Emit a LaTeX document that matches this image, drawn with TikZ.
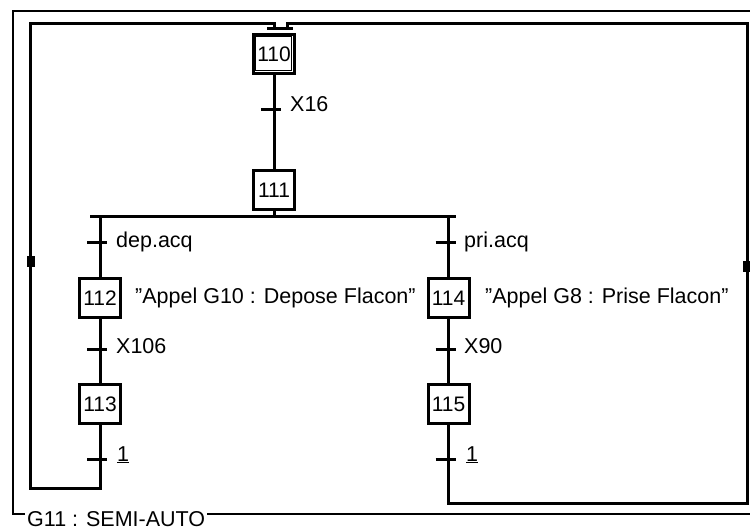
\documentclass[tikz,border=0pt]{standalone}
\usepackage{fontspec}
\setmainfont{Liberation Sans}
\usetikzlibrary{calc}
\newcommand{\dq}{\char34\relax}
\begin{document}
\begin{tikzpicture}[x=1pt,y=-1pt,
  stepbox/.style={draw, line width=3pt, minimum width=41pt, minimum height=39pt, inner sep=0pt, font=\fontsize{21}{24}\selectfont},
  link/.style={line width=3pt},
  framel/.style={line width=2pt},
  lbl/.style={anchor=base west, inner sep=0pt, font=\fontsize{21.5}{25}\selectfont},
  tickl/.style={line width=3pt}]
\useasboundingbox (0,0) rectangle (750,530);

% outer frame
\draw[framel] (752,11) -- (13,11) -- (13,514) -- (752,514);
\node[lbl, fill=white, inner sep=2pt] (g11) at (25,526) {G11 : SEMI-AUTO};

% steps
\node[stepbox] (s110) at (274,54) {110};
\draw[line width=1.5pt] ($(s110.north west)+(3,3)$) rectangle ($(s110.south east)+(-4.5,-4.5)$);
\node[stepbox] (s111) at (274,190) {111};
\node[stepbox] (s112) at (100,298) {112};
\node[stepbox] (s113) at (100,404) {113};
\node[stepbox] (s114) at (448.5,298) {114};
\node[stepbox] (s115) at (448.5,404) {115};

% coordinates
\coordinate (t16) at (274,109);
\coordinate (tdep) at (100,242);
\coordinate (tpri) at (448.5,242);
\coordinate (t106) at (100,349);
\coordinate (t90) at (448.5,349);
\coordinate (t1l) at (100,459);
\coordinate (t1r) at (448.5,459);
\coordinate (divL) at (90,216);
\coordinate (divR) at (456,216);
\coordinate (loopL) at (30,488);
\coordinate (loopR) at (747,503);
\coordinate (mergeL) at (267,28);
\coordinate (mergeR) at (293,28);

% links
\draw[link] (s110.south) -- (s111.north);
\draw[link] (s111.south) -- (s111.south |- divL);
\draw[link] (divL) -- (divR);
\draw[link] (s112.north |- divL) -- (s112.north);
\draw[link] (s114.north |- divR) -- (s114.north);
\draw[link] (s112.south) -- (s113.north);
\draw[link] (s114.south) -- (s115.north);
\draw[link] (mergeL) -- (mergeR);
\draw[link] (s113.south) -- (s113.south |- loopL) -- (loopL) -- (30,23) -- (274,23) -- (274,28);
\draw[link] (s115.south) -- (s115.south |- loopR) -- (loopR) -- (747,23) -- (287,23) -- (287,28);

% direction marks
\fill (27,256) rectangle (35,267);
\fill (743,261) rectangle (750,272);

% transitions
\foreach \t in {t16,tdep,tpri,t106,t90,t1l,t1r}{
  \draw[tickl] ($(\t)+(-13,0)$) -- ($(\t)+(7,0)$);
}

% labels
\node[lbl] (lx16) at (290,111) {X16};
\node[lbl] (ldep) at (116,247) {dep.acq};
\node[lbl] (lpri) at (464,247) {pri.acq};
\node[lbl] (lx106) at (116,353) {X106};
\node[lbl] (lx90) at (464,353) {X90};
\node[lbl] (l1l) at (117,461) {\underline{1}};
\node[lbl] (l1r) at (466,461) {\underline{1}};

% actions
\node[lbl] (a112) at (135,303) {\dq Appel G10 : Depose Flacon\dq};
\node[lbl] (a114) at (485,303) {\dq Appel G8 : Prise Flacon\dq};
\end{tikzpicture}
\end{document}
